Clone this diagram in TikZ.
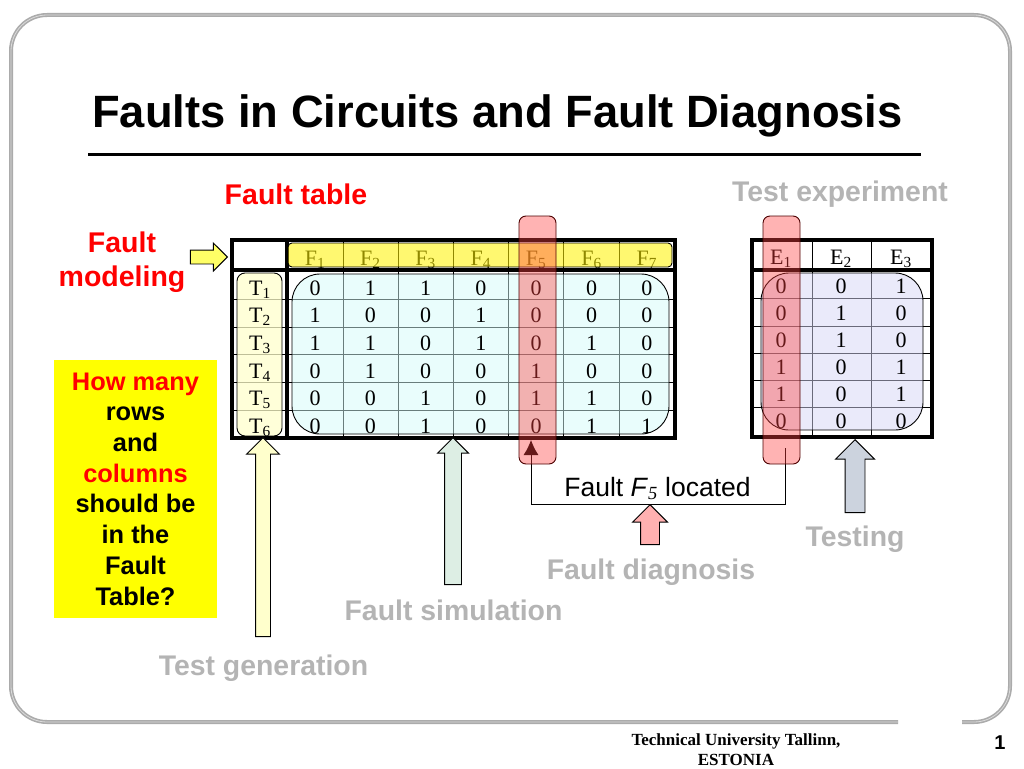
\documentclass[tikz,border=0pt]{standalone}
\usepackage{fontspec}
\setmainfont{Liberation Serif}
\newfontfamily\arialfont{Liberation Sans}
\usepackage{tikz}
\usetikzlibrary{shapes.arrows, arrows.meta}
\definecolor{framegray}{HTML}{ABABAB}
\definecolor{framelight}{HTML}{DADADA}
\definecolor{labelgray}{HTML}{B4B4B4}
\definecolor{faultred}{HTML}{FF0000}
\definecolor{capsred}{HTML}{FF4040}
\definecolor{capspale}{HTML}{FFB0B0}
\definecolor{capsyellow}{HTML}{FFF200}
\definecolor{boxyellow}{HTML}{FFFF00}
\definecolor{paleyellow}{HTML}{FFFFCC}
\definecolor{modelyellow}{HTML}{FFFF66}
\definecolor{cellcyan}{HTML}{D3FBF9}
\definecolor{cellblue}{HTML}{D5D5F5}
\definecolor{simgreen}{HTML}{DDEEE4}
\definecolor{testblue}{HTML}{CCD3DE}
\tikzset{
  locarrow/.style={-{Latex[length=15pt,width=15pt]},line width=0.9pt},
  thinline/.style={line width=1pt,black},
  thickline/.style={line width=3.5pt},
  frameline/.style={rounded corners=36pt},
  cell/.style={anchor=base,inner sep=0pt,font=\fontsize{22}{22}\selectfont},
  graylabel/.style={anchor=base,inner sep=0pt,text=labelgray,font=\arialfont\bfseries\fontsize{28.4}{28.4}\selectfont},
  redlabel/.style={inner sep=0pt,text=faultred,align=center,font=\arialfont\bfseries\fontsize{28.5}{34}\selectfont},
  capsule/.style={rectangle,draw=black,line width=0.9pt,inner sep=0pt},
  redcaps/.style={capsule,rounded corners=7pt,fill=capsred,fill opacity=0.4,draw=black!70!red,
    minimum width=37pt,minimum height=248pt},
  blockarrow/.style={single arrow,draw=black,line width=0.9pt,inner xsep=0pt,anchor=tip,rotate=90,
    single arrow tip angle=90},
}
\begin{document}
\begin{tikzpicture}[x=1pt,y=-1pt]
\useasboundingbox (0,0) rectangle (1024,768);
% frame, open at the bottom right
\draw[framegray,line width=4pt,frameline] (962,722) -- (1010,722) -- (1010,15) -- (11,15) -- (11,722) -- (898,722);
\draw[framelight,line width=0.8pt,frameline] (962,722) -- (1010,722) -- (1010,15) -- (11,15) -- (11,722) -- (898,722);
% title
\node[anchor=base,inner sep=0pt,font=\arialfont\bfseries\fontsize{45.3}{45.3}\selectfont] (title) at (497.5,127) {Faults in Circuits and Fault Diagnosis};
\coordinate (ruleleft) at (88,154);
\coordinate (ruleright) at (921,154);
\draw[line width=3pt] (ruleleft) -- (ruleright);
% labels
\node[redlabel,anchor=base] (tablelabel) at (296,204) {Fault table};
\node[graylabel] (experiment) at (840,201) {Test experiment};
\node[redlabel] (modeling) at (122,262) {Fault\\modeling};
\node[rectangle,fill=boxyellow,inner sep=0pt,minimum width=163pt,minimum height=258pt,align=center,
  font=\arialfont\bfseries\fontsize{25.4}{30.7}\selectfont] (question) at (135.5,489)
  {\textcolor{faultred}{How many}\\rows\\and\\\textcolor{faultred}{columns}\\should be\\in the\\Fault\\Table?};
% fault table
\foreach \y in {299,327,354,382,410} \draw[thinline] (232,\y) -- (675,\y);
\foreach \x in {343,398,453,508,563,619} \draw[thinline] (\x,240) -- (\x,438);
\node[capsule,rounded corners=8pt,fill=paleyellow,minimum width=45pt,minimum height=163pt,fill opacity=0.75] (testcaps) at (259.5,354.5) {};
\node[capsule,rounded corners=28pt,fill=cellcyan,minimum width=377pt,minimum height=160pt,fill opacity=0.5] (cellcaps) at (480.5,354) {};
\draw[thickline] (232,240) rectangle (675,438);
\draw[thickline] (232,270) -- (675,270);
\draw[thickline] (287,240) -- (287,438);
\foreach \n [count=\c] in {1,...,7}
  \node[cell] (f\n) at ({315+55.3*(\c-1)},265) {F\textsubscript{\n}};
\node[capsule,rounded corners=4pt,fill=capsyellow,fill opacity=0.56,minimum width=384pt,minimum height=24pt] (faultcaps) at (480,255) {};
\foreach \b [count=\n] in {295,322,350,378,405,433}
  \node[cell] (t\n) at (260,\b) {T\textsubscript{\n}};
\foreach \b/\vals [count=\r] in {295/{0,1,1,0,0,0,0},322/{1,0,0,1,0,0,0},350/{1,1,0,1,0,1,0},
    378/{0,1,0,0,1,0,0},405/{0,0,1,0,1,1,0},433/{0,0,1,0,0,1,1}}
  \foreach \v [count=\c] in \vals
    \node[cell] (c\r\c) at ({315+55.3*(\c-1)},\b) {\v};
% test experiment table
\foreach \y in {298,326,353,380,407} \draw[thinline] (752,\y) -- (932,\y);
\foreach \x in {812,871} \draw[thinline] (\x,240) -- (\x,437);
\node[capsule,rounded corners=28pt,fill=cellblue,minimum width=162pt,minimum height=157pt,fill opacity=0.5] (expcaps) at (842,351.5) {};
\draw[thickline] (752,240) rectangle (932,437);
\draw[thickline] (752,270) -- (932,270);
\foreach \n [count=\c] in {1,2,3}
  \node[cell] (e\n) at ({781+60*(\c-1)},264) {E\textsubscript{\n}};
\foreach \b/\vals [count=\r] in {293/{0,0,1},320/{0,1,0},347/{0,1,0},374/{1,0,1},401/{1,0,1},428/{0,0,0}}
  \foreach \v [count=\c] in \vals
    \node[cell] (d\r\c) at ({781+60*(\c-1)},\b) {\v};
% fault located
\coordinate (e1tail) at (785,448);
\coordinate (f5tip) at (531,440);
\draw[locarrow] (e1tail) -- ++(0,56) -| (f5tip);
\node[anchor=base,inner sep=0pt,font=\arialfont\fontsize{26.5}{26.5}\selectfont] (located) at (657.5,496)
  {Fault \textit{F}\textsubscript{\rmfamily\itshape 5} located};
\node[redcaps] (f5caps) at (537.5,340) {};
\node[redcaps] (e1caps) at (781.5,340) {};
% block arrows
\node[blockarrow,fill=modelyellow,rotate=-90,minimum height=37pt,inner ysep=6.5pt,single arrow head extend=7pt] (modelarrow) at (228,257) {};
\node[blockarrow,fill=paleyellow,minimum height=199pt,inner ysep=7pt,single arrow head extend=9pt] (genarrow) at (263,437) {};
\node[blockarrow,fill=simgreen,minimum height=147pt,inner ysep=8pt,single arrow head extend=7pt] (simarrow) at (453,437) {};
\node[blockarrow,fill=capspale,minimum height=40pt,inner ysep=9pt,single arrow head extend=8pt] (diagarrow) at (650,504) {};
\node[blockarrow,fill=testblue,minimum height=73pt,inner ysep=9.5pt,single arrow head extend=9.5pt] (testarrow) at (855,439) {};
% process names
\node[graylabel] (testing) at (855,546) {Testing};
\node[graylabel] (diagnosis) at (651,579) {Fault diagnosis};
\node[graylabel] (simulation) at (453.5,620) {Fault simulation};
\node[graylabel] (generation) at (263.5,675) {Test generation};
% footer
\node[inner sep=0pt,align=center,font=\bfseries\fontsize{17}{20}\selectfont] (footer) at (736,750) {Technical University Tallinn,\\ESTONIA};
\node[inner sep=0pt,font=\arialfont\bfseries\fontsize{20}{20}\selectfont] (pagenum) at (1000,743) {1};
\end{tikzpicture}
\end{document}
